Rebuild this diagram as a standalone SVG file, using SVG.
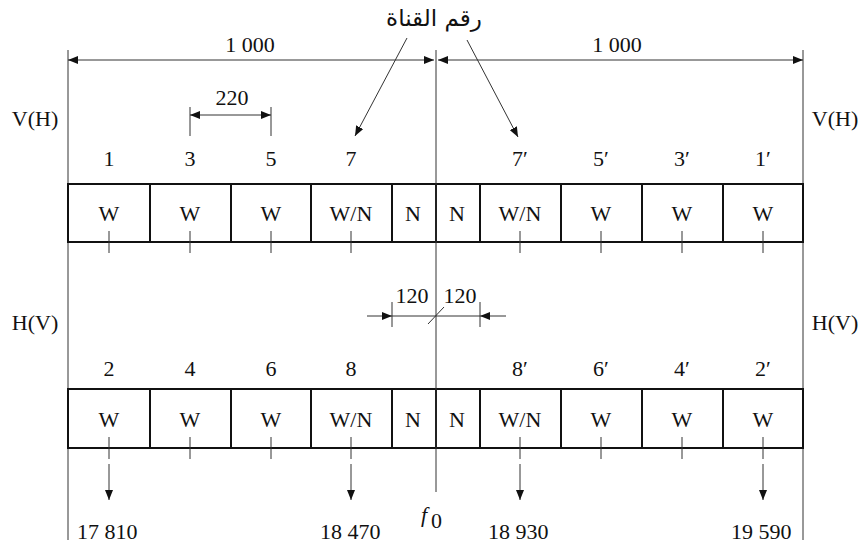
<svg xmlns="http://www.w3.org/2000/svg" width="861" height="546" viewBox="0 0 861 546">
<style>
text{font-family:"Liberation Serif","Times New Roman",serif;font-size:22px;fill:#111;text-anchor:middle}
.ar{font-family:"DejaVu Sans","Noto Sans",sans-serif;font-size:23px}
.l{text-anchor:start}
.box{fill:#fff;stroke:#111;stroke-width:2}
.thin{stroke:#333;stroke-width:1;fill:none}
.dim{stroke:#333;stroke-width:1;fill:none;marker-start:url(#as);marker-end:url(#ae)}
.arr{stroke:#333;stroke-width:1;fill:none;marker-end:url(#ae)}
</style>
<defs>
<marker id="ae" markerUnits="userSpaceOnUse" markerWidth="11" markerHeight="8" refX="10" refY="4" orient="auto"><path d="M0,0 L10,4 L0,8 z" fill="#111"/></marker>
<marker id="as" markerUnits="userSpaceOnUse" markerWidth="11" markerHeight="8" refX="0" refY="4" orient="auto"><path d="M10,0 L0,4 L10,8 z" fill="#111"/></marker>
</defs>
<rect width="861" height="546" fill="#fff"/>

<g id="frame">
<line class="thin" x1="68" y1="50" x2="68" y2="540"/>
<line class="thin" x1="803" y1="50" x2="803" y2="540"/>
</g>

<g id="labels">
<text x="35" y="126">V(H)</text>
<text x="835" y="126">V(H)</text>
<text x="35" y="330">H(V)</text>
<text x="835" y="330">H(V)</text>
<text x="250" y="52">1 000</text>
<text x="617" y="52">1 000</text>
<text x="232" y="105">220</text>
<text x="412" y="303">120</text>
<text x="460" y="303">120</text>
<text class="ar" x="434" y="26">رقم القناة</text>
<text x="109" y="166">1</text>
<text x="190" y="166">3</text>
<text x="271" y="166">5</text>
<text x="351" y="166">7</text>
<text x="520" y="166">7′</text>
<text x="601" y="166">5′</text>
<text x="682" y="166">3′</text>
<text x="763" y="166">1′</text>
<text x="109" y="376">2</text>
<text x="190" y="376">4</text>
<text x="271" y="376">6</text>
<text x="351" y="376">8</text>
<text x="520" y="376">8′</text>
<text x="601" y="376">6′</text>
<text x="682" y="376">4′</text>
<text x="763" y="376">2′</text>
<text class="l" x="77" y="539">17 810</text>
<text class="l" x="320" y="539">18 470</text>
<text class="l" x="488" y="539">18 930</text>
<text class="l" x="731" y="539">19 590</text>
<text class="l" x="421" y="522" font-style="italic">f</text>
<text class="l" x="431" y="528" font-size="16">0</text>
</g>

<g id="row-top">
<g id="c1"><rect class="box" x="68" y="184" width="82" height="58"/><text x="109" y="221">W</text></g>
<g id="c3"><rect class="box" x="150" y="184" width="81" height="58"/><text x="190" y="221">W</text></g>
<g id="c5"><rect class="box" x="231" y="184" width="80" height="58"/><text x="271" y="221">W</text></g>
<g id="c7"><rect class="box" x="311" y="184" width="81" height="58"/><text x="351" y="221">W/N</text></g>
<g id="cN1"><rect class="box" x="392" y="184" width="44" height="58"/><text x="413" y="221">N</text></g>
<g id="cN2"><rect class="box" x="436" y="184" width="44" height="58"/><text x="457" y="221">N</text></g>
<g id="c7p"><rect class="box" x="480" y="184" width="81" height="58"/><text x="520" y="221">W/N</text></g>
<g id="c5p"><rect class="box" x="561" y="184" width="81" height="58"/><text x="601" y="221">W</text></g>
<g id="c3p"><rect class="box" x="642" y="184" width="81" height="58"/><text x="682" y="221">W</text></g>
<g id="c1p"><rect class="box" x="723" y="184" width="80" height="58"/><text x="763" y="221">W</text></g>
</g>

<g id="row-bottom">
<g id="c2"><rect class="box" x="68" y="389" width="82" height="59"/><text x="109" y="427">W</text></g>
<g id="c4"><rect class="box" x="150" y="389" width="81" height="59"/><text x="190" y="427">W</text></g>
<g id="c6"><rect class="box" x="231" y="389" width="80" height="59"/><text x="271" y="427">W</text></g>
<g id="c8"><rect class="box" x="311" y="389" width="81" height="59"/><text x="351" y="427">W/N</text></g>
<g id="cN3"><rect class="box" x="392" y="389" width="44" height="59"/><text x="413" y="427">N</text></g>
<g id="cN4"><rect class="box" x="436" y="389" width="44" height="59"/><text x="457" y="427">N</text></g>
<g id="c8p"><rect class="box" x="480" y="389" width="81" height="59"/><text x="520" y="427">W/N</text></g>
<g id="c6p"><rect class="box" x="561" y="389" width="81" height="59"/><text x="601" y="427">W</text></g>
<g id="c4p"><rect class="box" x="642" y="389" width="81" height="59"/><text x="682" y="427">W</text></g>
<g id="c2p"><rect class="box" x="723" y="389" width="80" height="59"/><text x="763" y="427">W</text></g>
</g>

<g id="connectors">
<line class="thin" x1="436" y1="50" x2="436" y2="492"/>
<line class="dim" x1="68" y1="60" x2="434" y2="60"/>
<line class="dim" x1="438" y1="60" x2="803" y2="60"/>
<line class="thin" x1="190" y1="107" x2="190" y2="136"/>
<line class="thin" x1="271" y1="107" x2="271" y2="136"/>
<line class="dim" x1="190" y1="115" x2="271" y2="115"/>
<line class="arr" x1="407" y1="38" x2="355" y2="136"/>
<line class="arr" x1="467" y1="40" x2="518" y2="137"/>
<g class="thin">
<line x1="109" y1="231" x2="109" y2="253"/>
<line x1="190" y1="231" x2="190" y2="253"/>
<line x1="271" y1="231" x2="271" y2="253"/>
<line x1="351" y1="231" x2="351" y2="253"/>
<line x1="520" y1="231" x2="520" y2="253"/>
<line x1="601" y1="231" x2="601" y2="253"/>
<line x1="682" y1="231" x2="682" y2="253"/>
<line x1="763" y1="231" x2="763" y2="253"/>
<line x1="109" y1="437" x2="109" y2="459"/>
<line x1="190" y1="437" x2="190" y2="459"/>
<line x1="271" y1="437" x2="271" y2="459"/>
<line x1="351" y1="437" x2="351" y2="459"/>
<line x1="520" y1="437" x2="520" y2="459"/>
<line x1="601" y1="437" x2="601" y2="459"/>
<line x1="682" y1="437" x2="682" y2="459"/>
<line x1="763" y1="437" x2="763" y2="459"/>
<line x1="392" y1="302" x2="392" y2="327"/>
<line x1="480" y1="302" x2="480" y2="327"/>
<line x1="392" y1="316" x2="480" y2="316"/>
<line x1="428" y1="324" x2="444" y2="307"/>
</g>
<line class="arr" x1="367" y1="316" x2="392" y2="316"/>
<line class="arr" x1="506" y1="316" x2="480" y2="316"/>
<line class="arr" x1="109" y1="464" x2="109" y2="500"/>
<line class="arr" x1="351" y1="464" x2="351" y2="500"/>
<line class="arr" x1="520" y1="464" x2="520" y2="500"/>
<line class="arr" x1="763" y1="464" x2="763" y2="500"/>
</g>
</svg>
